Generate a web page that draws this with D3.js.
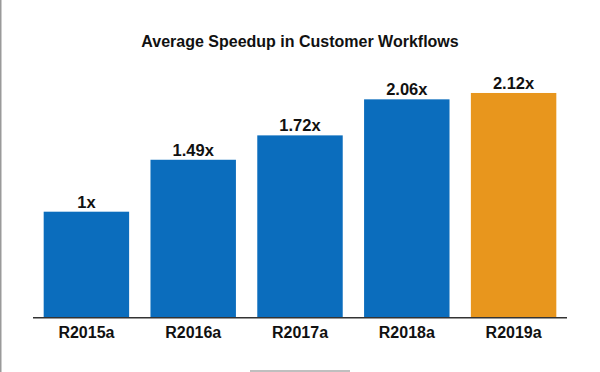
<!DOCTYPE html>
<html>
<head>
<meta charset="utf-8">
<script src="https://cdn.jsdelivr.net/npm/d3@7"></script>
<style>
html,body{margin:0;padding:0;background:#fff;}
svg{display:block;}
text{font-family:"Liberation Sans",Arial,sans-serif;font-weight:bold;fill:#111;}
</style>
</head>
<body>
<script>
const title = "Average Speedup in Customer Workflows";
const categories = ["R2015a","R2016a","R2017a","R2018a","R2019a"];
const speedups = [1, 1.49, 1.72, 2.06, 2.12];
const valueLabels = ["1x","1.49x","1.72x","2.06x","2.12x"];
const highlight = ["R2019a"];

const W = 600, H = 372;
const svg = d3.select("body").append("svg").attr("width", W).attr("height", H);

// frame details
svg.append("line").attr("x1",0.75).attr("x2",0.75).attr("y1",0).attr("y2",H)
  .attr("stroke","#9a9a9a").attr("stroke-width",1.5);
svg.append("line").attr("x1",250).attr("x2",350).attr("y1",371).attr("y2",371)
  .attr("stroke","#aaa").attr("stroke-width",1.5);

const x = d3.scaleBand().domain(categories).range([33, 567]).paddingInner(0.2).paddingOuter(0.1);
const y = d3.scaleLinear().domain([0, 1]).range([317.7, 211.7]);

svg.append("text").attr("x", 300).attr("y", 46.7).attr("text-anchor","middle")
  .attr("font-size", 16).text(title);

const data = categories.map((c,i)=>({c, v:speedups[i], l:valueLabels[i]}));

svg.selectAll("rect.bar").data(data).join("rect").attr("class","bar")
  .attr("x", d=>x(d.c)).attr("width", x.bandwidth())
  .attr("y", d=>y(d.v)).attr("height", d=>y(0)-y(d.v))
  .attr("fill", d=> highlight.includes(d.c) ? "#E8961D" : "#0B6DBD");

svg.selectAll("text.val").data(data).join("text").attr("class","val")
  .attr("x", d=>x(d.c)+x.bandwidth()/2).attr("y", d=>y(d.v)-4)
  .attr("text-anchor","middle").attr("font-size", 16.5).text(d=>d.l);

const axis = svg.append("g").attr("transform", `translate(0,${y(0)})`)
  .call(d3.axisBottom(x).tickSize(0).tickPadding(9));
axis.select(".domain").attr("stroke","#333").attr("stroke-width",1.5).attr("d","M33,0H567");
axis.selectAll(".tick text").attr("font-size", 16).attr("fill","#111")
  .style("font-family","'Liberation Sans',Arial,sans-serif").style("font-weight","bold");
</script>
</body>
</html>
